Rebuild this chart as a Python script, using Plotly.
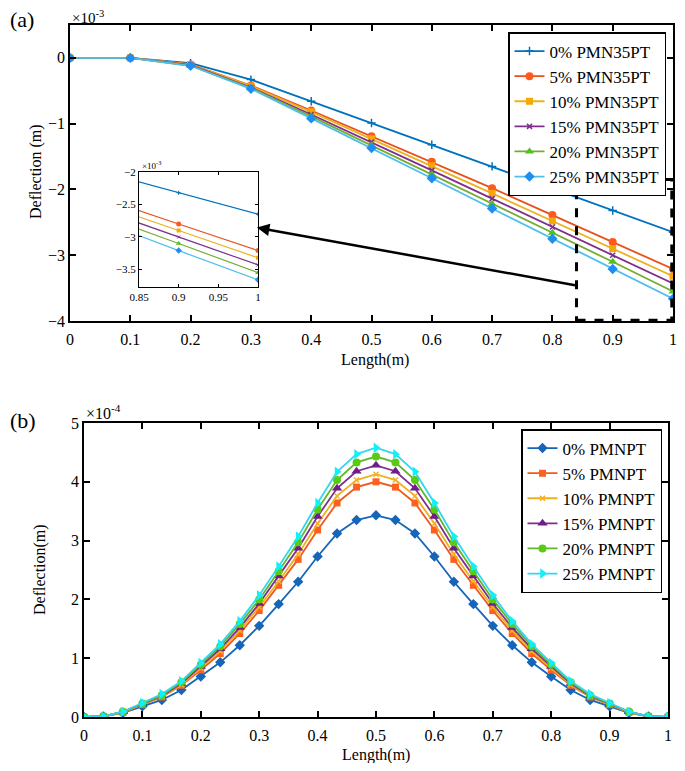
import plotly.graph_objects as go

# ---------------- data ----------------
# Panel (a): deflection in units of 1e-3 m
length_a = [0.0, 0.1, 0.2, 0.3, 0.4, 0.5, 0.6, 0.7, 0.8, 0.9, 1.0]
labels_a = ["0% PMN35PT", "5% PMN35PT", "10% PMN35PT", "15% PMN35PT", "20% PMN35PT", "25% PMN35PT"]
defl_a_0 = [0, 0, -0.08, -0.33, -0.66, -0.99, -1.32, -1.65, -1.98, -2.32, -2.65]
defl_a_5 = [0, 0, -0.10, -0.42, -0.80, -1.19, -1.58, -1.98, -2.39, -2.80, -3.21]
defl_a_10 = [0, 0, -0.10, -0.43, -0.82, -1.23, -1.64, -2.06, -2.48, -2.90, -3.32]
defl_a_15 = [0, 0, -0.11, -0.45, -0.86, -1.28, -1.71, -2.14, -2.57, -3.00, -3.43]
defl_a_20 = [0, 0, -0.12, -0.46, -0.89, -1.33, -1.77, -2.22, -2.66, -3.10, -3.55]
defl_a_25 = [0, 0, -0.12, -0.47, -0.92, -1.37, -1.83, -2.29, -2.75, -3.21, -3.66]

# Panel (b): deflection in units of 1e-4 m
length_b = [0.0, 0.0333, 0.0667, 0.1, 0.1333, 0.1667, 0.2, 0.2333, 0.2667, 0.3, 0.3333,
            0.3667, 0.4, 0.4333, 0.4667, 0.5, 0.5333, 0.5667, 0.6, 0.6333, 0.6667,
            0.7, 0.7333, 0.7667, 0.8, 0.8333, 0.8667, 0.9, 0.9333, 0.9667, 1.0]
labels_b = ["0% PMNPT", "5% PMNPT", "10% PMNPT", "15% PMNPT", "20% PMNPT", "25% PMNPT"]
defl_b_0 = [0, 0.01, 0.07, 0.18, 0.29, 0.46, 0.69, 0.93, 1.22, 1.55, 1.92, 2.30, 2.73, 3.12, 3.35, 3.43,
            3.35, 3.12, 2.73, 2.30, 1.92, 1.55, 1.22, 0.93, 0.69, 0.46, 0.29, 0.18, 0.07, 0.01, 0]
defl_b_5 = [0, 0.01, 0.08, 0.21, 0.34, 0.54, 0.80, 1.08, 1.42, 1.81, 2.24, 2.68, 3.18, 3.64, 3.91, 4.00,
            3.91, 3.64, 3.18, 2.68, 2.24, 1.81, 1.42, 1.08, 0.80, 0.54, 0.34, 0.21, 0.08, 0.01, 0]
defl_b_10 = [0, 0.01, 0.08, 0.22, 0.35, 0.55, 0.83, 1.12, 1.47, 1.87, 2.31, 2.77, 3.29, 3.76, 4.03, 4.13,
             4.03, 3.76, 3.29, 2.77, 2.31, 1.87, 1.47, 1.12, 0.83, 0.55, 0.35, 0.22, 0.08, 0.01, 0]
defl_b_15 = [0, 0.01, 0.09, 0.22, 0.36, 0.57, 0.86, 1.16, 1.52, 1.93, 2.40, 2.87, 3.41, 3.89, 4.18, 4.28,
             4.18, 3.89, 3.41, 2.87, 2.40, 1.93, 1.52, 1.16, 0.86, 0.57, 0.36, 0.22, 0.09, 0.01, 0]
defl_b_20 = [0, 0.01, 0.09, 0.23, 0.37, 0.59, 0.89, 1.20, 1.58, 2.00, 2.48, 2.97, 3.53, 4.03, 4.33, 4.43,
             4.33, 4.03, 3.53, 2.97, 2.48, 2.00, 1.58, 1.20, 0.89, 0.59, 0.37, 0.23, 0.09, 0.01, 0]
defl_b_25 = [0, 0.01, 0.09, 0.24, 0.39, 0.61, 0.92, 1.24, 1.63, 2.07, 2.56, 3.07, 3.64, 4.17, 4.47, 4.58,
             4.47, 4.17, 3.64, 3.07, 2.56, 2.07, 1.63, 1.24, 0.92, 0.61, 0.39, 0.24, 0.09, 0.01, 0]

series_a = [defl_a_0, defl_a_5, defl_a_10, defl_a_15, defl_a_20, defl_a_25]
series_b = [defl_b_0, defl_b_5, defl_b_10, defl_b_15, defl_b_20, defl_b_25]

# ---------------- styles ----------------
FONT = "Times New Roman, Liberation Serif, serif"
line_cols_a = ["#0072BD", "#E8501A", "#EDB120", "#7E2F8E", "#77AC30", "#4DBEEE"]
mk_cols_a = ["#0072BD", "#FF5A1E", "#F5A80A", "#7E2F8E", "#4CC21A", "#1E8FF0"]
symbols_a = ["cross-thin", "circle", "square", "x-thin", "triangle-up", "diamond"]
sizes_a = [6, 8, 7, 5, 8, 8]

line_cols_b = ["#1565B8", "#EE5A1E", "#EDB120", "#7E2F8E", "#60B82A", "#33D6F0"]
mk_cols_b = ["#1565B8", "#FF6020", "#F5B020", "#701C8A", "#58CC10", "#10F0F8"]
symbols_b = ["diamond", "square", "x-thin", "triangle-up", "circle", "triangle-right"]
sizes_b = [8, 7, 5, 9, 8, 9]

# page has an 8px body margin: the figure starts at (8, 8) in the window
OFF = 8
W, H = 685 - 2 * OFF, 771 - 2 * OFF
def px(x):
    return (x - OFF) / W
def py(y):
    return 1 - (y - OFF) / H

fig = go.Figure()

for i, ys in enumerate(series_a):
    mk = dict(symbol=symbols_a[i], size=sizes_a[i], color=mk_cols_a[i])
    if "thin" in symbols_a[i]:
        mk["line"] = dict(color=mk_cols_a[i], width=1.5)
    fig.add_trace(go.Scatter(x=length_a, y=ys, name=labels_a[i], mode="lines+markers",
                             line=dict(color=line_cols_a[i], width=1.8), marker=mk,
                             xaxis="x", yaxis="y", legend="legend"))
    # inset copy
    mk2 = dict(symbol=symbols_a[i], size=max(3, sizes_a[i] - 3), color=mk_cols_a[i])
    if "thin" in symbols_a[i]:
        mk2["line"] = dict(color=mk_cols_a[i], width=1)
    fig.add_trace(go.Scatter(x=length_a, y=ys, name=labels_a[i], mode="lines+markers",
                             line=dict(color=line_cols_a[i], width=1.2), marker=mk2,
                             xaxis="x3", yaxis="y3", showlegend=False, cliponaxis=True))

for i, ys in enumerate(series_b):
    mk = dict(symbol=symbols_b[i], size=sizes_b[i], color=mk_cols_b[i])
    if "thin" in symbols_b[i]:
        mk["line"] = dict(color=mk_cols_b[i], width=1.5)
    fig.add_trace(go.Scatter(x=length_b, y=ys, name=labels_b[i], mode="lines+markers",
                             line=dict(color=line_cols_b[i], width=1.8), marker=mk,
                             xaxis="x2", yaxis="y2", legend="legend2"))

axis_common = dict(showline=True, linecolor="black", linewidth=1.5, mirror="ticks",
                   ticks="inside", ticklen=6, tickwidth=1.5, tickcolor="black",
                   showgrid=False, zeroline=False, automargin=False,
                   tickfont=dict(family=FONT, size=16, color="black"))
inset_axis = dict(showline=True, linecolor="black", linewidth=1, mirror="ticks",
                  ticks="inside", ticklen=3, tickcolor="black", showgrid=False, zeroline=False,
                  automargin=False, tickfont=dict(family=FONT, size=11, color="black"))

fig.update_layout(
    template="none",
    width=W, height=H,
    margin=dict(l=0, r=0, t=0, b=0, pad=0, autoexpand=False),
    paper_bgcolor="white", plot_bgcolor="white",
    font=dict(family=FONT, color="black"),
    xaxis=dict(domain=[px(70), px(673)], range=[0, 1], dtick=0.1, anchor="y",
               ticklabelstandoff=3, ticklabeloverflow="allow", **axis_common),
    yaxis=dict(domain=[py(321), py(25)], range=[-4, 0.5], tickvals=[-4, -3, -2, -1, 0],
               anchor="x", **axis_common),
    xaxis2=dict(domain=[px(84), px(668)], range=[0, 1], dtick=0.1, anchor="y2",
                ticklabelstandoff=3, **axis_common),
    yaxis2=dict(domain=[py(717), py(423)], range=[0, 5], dtick=1, anchor="x2", **axis_common),
    xaxis3=dict(domain=[px(139), px(258)], range=[0.85, 1], tickvals=[0.85, 0.9, 0.95, 1],
                anchor="y3", **inset_axis),
    yaxis3=dict(domain=[py(287), py(172)], range=[-3.77, -2], tickvals=[-3.5, -3, -2.5, -2],
                anchor="x3", **inset_axis),
    legend=dict(x=px(508), y=py(32), xanchor="left", yanchor="top",
                bgcolor="white", bordercolor="black", borderwidth=1.5,
                font=dict(family=FONT, size=17, color="black"), tracegroupgap=0),
    legend2=dict(x=px(521), y=py(429), xanchor="left", yanchor="top",
                 bgcolor="white", bordercolor="black", borderwidth=1.5,
                 font=dict(family=FONT, size=17, color="black"), tracegroupgap=0),
)

# dashed zoom box and arrow in panel (a)
fig.add_shape(type="rect", xref="x", yref="y", x0=0.84, x1=0.998, y0=-3.99, y1=-1.85,
              line=dict(color="black", width=3, dash="dash"))
fig.add_annotation(xref="x", yref="y", axref="x", ayref="y",
                   x=0.31, y=-2.58, ax=0.84, ay=-3.46, text="", showarrow=True,
                   arrowhead=2, arrowsize=1, arrowwidth=2.5, arrowcolor="black")

ann_font = dict(family=FONT, size=16, color="black")
annotations = [
    dict(x=px(8), y=py(20), text="(a)", font=dict(family=FONT, size=22, color="black"), xanchor="left"),
    dict(x=px(8), y=py(420), text="(b)", font=dict(family=FONT, size=22, color="black"), xanchor="left"),
    dict(x=px(70), y=py(28), text="×10<sup>-3</sup>", font=dict(family=FONT, size=15, color="black"),
         xanchor="left", yanchor="bottom"),
    dict(x=px(84), y=py(424), text="×10<sup>-4</sup>", font=ann_font, xanchor="left", yanchor="bottom"),
    dict(x=px(140), y=py(165), text="×10<sup>-3</sup>", font=dict(family=FONT, size=9, color="black"), xanchor="left"),
    dict(x=px(375), y=py(360), text="Length(m)", font=ann_font),
    dict(x=px(376), y=py(755), text="Length(m)", font=ann_font),
    dict(x=px(36), y=py(172), text="Deflection (m)", font=ann_font, textangle=-90),
    dict(x=px(40), y=py(570), text="Deflection(m)", font=ann_font, textangle=-90),
]
for a in annotations:
    a.setdefault("xanchor", "center")
    a.setdefault("yanchor", "middle")
    fig.add_annotation(xref="paper", yref="paper", showarrow=False, **a)

fig.write_html("out.html")
